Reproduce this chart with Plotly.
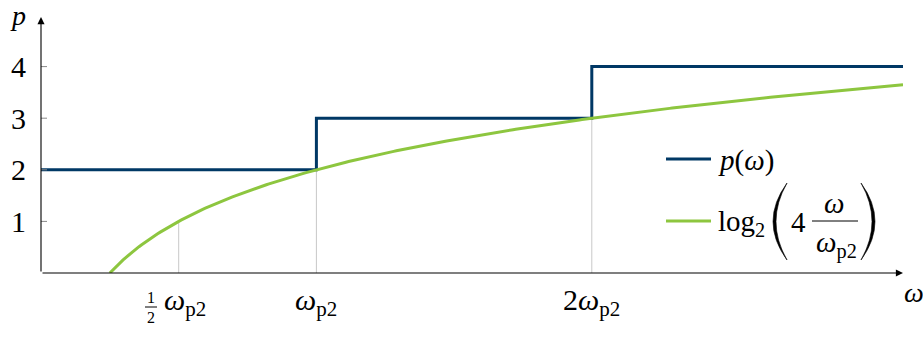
import numpy as np
import plotly.graph_objects as go

# --- data -------------------------------------------------------------
# frequency axis in units of omega_p2
omega_max = 3.13
step_omega = [0.0, 1.0, 2.0, omega_max]   # breakpoints of p(omega)
step_p = [2, 3, 4, 4]                      # order p on each interval
curve_omega = np.linspace(0.25, omega_max, 300)
curve_p = np.log2(4 * curve_omega / 1.0)   # log2(4 omega / omega_p2)

x_tick_vals = [0.5, 1.0, 2.0]
y_tick_vals = [1, 2, 3, 4]

BLUE = "#003865"
GREEN = "#8DC63F"
GRAY = "#c8c8c8"
FONT = "Liberation Serif, Times New Roman, serif"

# plot-area geometry (pixels)
W_FIG, H_FIG = 923, 338
L, R, T, B = 41, 20, 15, 65
PW, PH = W_FIG - L - R, H_FIG - T - B


def px(xp):
    return (xp - L) / PW


def py(yp):
    return 1 - (yp - T) / PH


def label(xp, yp, text, font, xanchor="center"):
    """Text placed by pixel position of its anchor."""
    return dict(x=px(xp), y=py(yp), xref="paper", yref="paper",
                xanchor=xanchor, yanchor="middle", text=text,
                showarrow=False, font=font)


def paren(x_end, x_outer, x_inner, y_top, y_bot):
    """Tall parenthesis as a filled crescent (pixel coordinates)."""
    ym = (y_top + y_bot) / 2
    p = (f"M {px(x_end)},{py(y_top)} "
         f"Q {px(x_outer)},{py(ym)} {px(x_end)},{py(y_bot)} "
         f"Q {px(x_inner)},{py(ym)} {px(x_end)},{py(y_top)} Z")
    return dict(type="path", xref="paper", yref="paper", path=p,
                fillcolor="black", line=dict(color="black", width=0.6))


fig = go.Figure()

# guide lines from the curve down to the frequency axis
for xv in x_tick_vals:
    fig.add_trace(go.Scatter(
        x=[xv, xv], y=[float(np.log2(4 * xv)), -0.13], mode="lines",
        line=dict(color=GRAY, width=1), showlegend=False, hoverinfo="skip",
        cliponaxis=False))

fig.add_trace(go.Scatter(
    x=step_omega, y=step_p, mode="lines", line_shape="hv",
    line=dict(color=BLUE, width=3), showlegend=False))
fig.add_trace(go.Scatter(
    x=curve_omega, y=curve_p, mode="lines",
    line=dict(color=GREEN, width=3), showlegend=False, cliponaxis=False))

shapes = []
annotations = []

# axes with arrow heads
annotations.append(dict(x=omega_max, y=0, ax=0, ay=0, xref="x", yref="y",
                        axref="x", ayref="y", showarrow=True, arrowhead=2,
                        arrowsize=1.3, arrowwidth=1.1, arrowcolor="black",
                        text=""))
annotations.append(dict(x=0, y=4.96, ax=0, ay=0, xref="x", yref="y",
                        axref="x", ayref="y", showarrow=True, arrowhead=2,
                        arrowsize=1.3, arrowwidth=1.1, arrowcolor="black",
                        text=""))

# small tick marks crossing the p axis
for yv in y_tick_vals:
    shapes.append(dict(type="line", xref="x", yref="y", xsizemode="pixel",
                       xanchor=0, x0=-6, x1=6, y0=yv, y1=yv,
                       line=dict(color="#888888", width=1)))

big = dict(family=FONT, size=28, color="black")
tick_font = dict(family=FONT, size=30, color="black")
lab_font = dict(family=FONT, size=29, color="black")
frac_font = dict(family=FONT, size=16, color="black")

# axis titles
annotations.append(label(914, 292, "<i>ω</i>", big))
annotations.append(label(18, 15, "<i>p</i>", big))

# frequency tick labels
for xv, txt in [(x_tick_vals[1], "<i>ω</i><sub>p2</sub>"),
                (x_tick_vals[2], "2<i>ω</i><sub>p2</sub>")]:
    annotations.append(dict(x=xv, y=py(302), xref="x", yref="paper",
                            xanchor="center", yanchor="middle", text=txt,
                            showarrow=False, font=tick_font))
annotations.append(label(162, 302, "<i>ω</i><sub>p2</sub>", tick_font,
                         xanchor="left"))
annotations.append(label(151, 297, "1", frac_font))
annotations.append(label(151, 317, "2", frac_font))
shapes.append(dict(type="line", xref="paper", yref="paper",
                   x0=px(145), x1=px(157), y0=py(307), y1=py(307),
                   line=dict(color="black", width=1)))

# legend drawn by hand
shapes.append(dict(type="line", xref="paper", yref="paper",
                   x0=px(666), x1=px(711), y0=py(159), y1=py(159),
                   line=dict(color=BLUE, width=3)))
shapes.append(dict(type="line", xref="paper", yref="paper",
                   x0=px(666), x1=px(711), y0=py(221), y1=py(221),
                   line=dict(color=GREEN, width=3)))
annotations.append(label(716, 160, "<i>p</i>(<i>ω</i>)", lab_font,
                         xanchor="left"))
annotations.append(label(716, 223, "log<sub>2</sub>", lab_font,
                         xanchor="left"))
shapes.append(paren(787, 759, 765, 183, 260))
shapes.append(paren(861, 889, 883, 183, 260))
annotations.append(label(798, 222, "4", lab_font))
annotations.append(label(834, 203, "<i>ω</i>", lab_font))
annotations.append(label(836, 244, "<i>ω</i><sub>p2</sub>", lab_font))
shapes.append(dict(type="line", xref="paper", yref="paper",
                   x0=px(812), x1=px(858), y0=py(221), y1=py(221),
                   line=dict(color="black", width=1)))

fig.update_layout(
    width=W_FIG, height=H_FIG,
    margin=dict(l=L, r=R, t=T, b=B),
    plot_bgcolor="white", paper_bgcolor="white",
    showlegend=False,
    xaxis=dict(range=[0, omega_max], showgrid=False, zeroline=False,
               showline=False, showticklabels=False, ticks=""),
    yaxis=dict(range=[0, 5], showgrid=False, zeroline=False, showline=False,
               tickvals=y_tick_vals, ticks="", ticklabelstandoff=14,
               tickfont=dict(family=FONT, size=30, color="black")),
    shapes=shapes,
    annotations=annotations,
)

fig.write_html("out.html")
